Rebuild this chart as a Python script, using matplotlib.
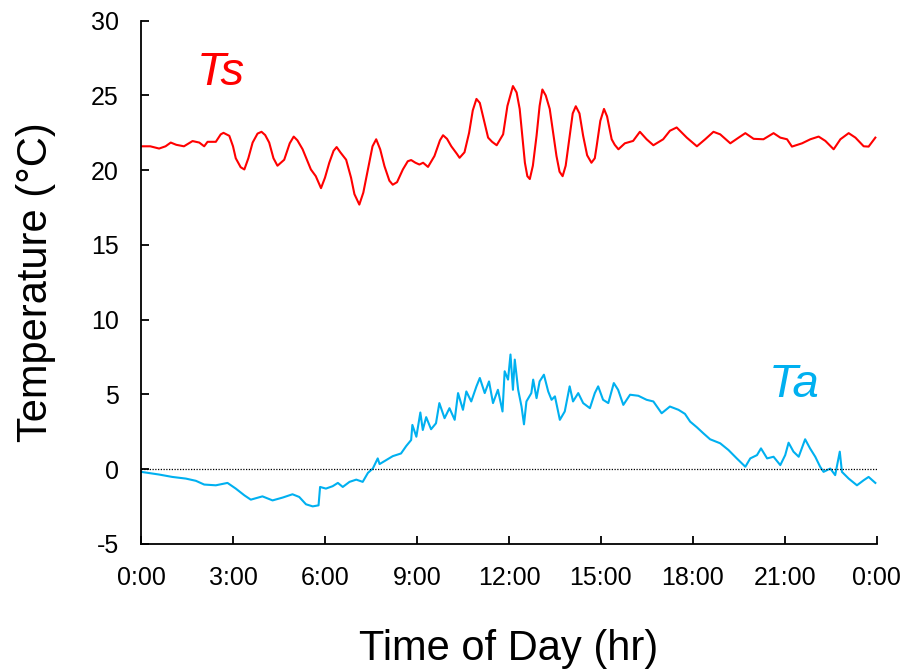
import matplotlib
matplotlib.use("Agg")
import matplotlib.pyplot as plt

# surface temperature (Ts): hour of day, deg C
ts_hours = [0.00, 0.30, 0.59, 0.80, 0.97, 1.15, 1.40, 1.68, 1.90, 2.06, 2.17, 2.44, 2.60, 2.69, 2.88,
            3.00, 3.09, 3.25, 3.37, 3.50, 3.64, 3.80, 3.93, 4.05, 4.18, 4.32, 4.45, 4.67, 4.85, 4.98,
            5.10, 5.27, 5.54, 5.70, 5.87, 6.00, 6.14, 6.28, 6.38, 6.50, 6.69, 6.85, 6.96, 7.12, 7.25,
            7.40, 7.55, 7.67, 7.80, 7.94, 8.10, 8.21, 8.35, 8.54, 8.70, 8.81, 8.95, 9.08, 9.20, 9.36,
            9.57, 9.75, 9.85, 9.98, 10.12, 10.30, 10.39, 10.55, 10.70, 10.82, 10.94, 11.05, 11.20, 11.32,
            11.45, 11.60, 11.81, 11.95, 12.13, 12.25, 12.35, 12.45, 12.52, 12.60, 12.68, 12.78, 12.90,
            13.00, 13.09, 13.20, 13.33, 13.45, 13.55, 13.65, 13.75, 13.85, 13.98, 14.08, 14.18, 14.30,
            14.42, 14.55, 14.69, 14.80, 14.86, 14.98, 15.10, 15.20, 15.35, 15.45, 15.57, 15.78, 16.05,
            16.27, 16.49, 16.71, 17.03, 17.25, 17.47, 17.80, 18.13, 18.40, 18.67, 18.89, 19.22, 19.49,
            19.71, 19.98, 20.30, 20.63, 20.85, 21.07, 21.23, 21.56, 21.83, 22.10, 22.32, 22.59, 22.81,
            23.08, 23.30, 23.57, 23.73, 23.95]
ts_values = [21.6, 21.6, 21.45, 21.6, 21.85, 21.7, 21.6, 21.95, 21.85, 21.6, 21.9, 21.9, 22.4, 22.5, 22.3,
             21.6, 20.8, 20.2, 20.05, 20.8, 21.85, 22.45, 22.57, 22.35, 21.85, 20.8, 20.3, 20.7, 21.8, 22.25,
             22.0, 21.4, 20.05, 19.6, 18.8, 19.5, 20.5, 21.3, 21.55, 21.2, 20.7, 19.5, 18.4, 17.7, 18.5,
             20.05, 21.6, 22.07, 21.4, 20.27, 19.3, 19.03, 19.2, 20.05, 20.6, 20.68, 20.5, 20.38, 20.5, 20.22,
             20.95, 22.0, 22.34, 22.1, 21.6, 21.1, 20.83, 21.2, 22.5, 24.0, 24.77, 24.5, 23.2, 22.18,
             21.9, 21.67, 22.4, 24.3, 25.63, 25.2, 24.1, 22.0, 20.5, 19.6, 19.41, 20.3, 22.3,
             24.3, 25.4, 25.0, 24.1, 22.4, 20.95, 19.9, 19.6, 20.3, 22.3, 23.8, 24.28, 23.8,
             22.3, 21.0, 20.5, 20.8, 21.6, 23.3, 24.1, 23.6, 22.07, 21.7, 21.4, 21.8, 21.96,
             22.57, 22.07, 21.67, 22.07, 22.64, 22.86, 22.18, 21.6, 22.07, 22.57, 22.4, 21.8, 22.18,
             22.48, 22.1, 22.07, 22.48, 22.18, 22.07, 21.58, 21.8, 22.07, 22.25, 21.96, 21.4, 22.07,
             22.48, 22.18, 21.6, 21.58, 22.18]

# air temperature (Ta)
ta_hours = [0.00, 0.59, 1.02, 1.46, 1.79, 2.06, 2.44, 2.82, 3.09, 3.37, 3.58, 3.96, 4.29, 4.62, 4.94,
            5.16, 5.38, 5.60, 5.79, 5.84, 6.03, 6.25, 6.42, 6.58, 6.80, 7.02, 7.23, 7.40, 7.56, 7.72,
            7.78, 7.99, 8.21, 8.48, 8.65, 8.81, 8.85, 8.98, 9.11, 9.19, 9.30, 9.46, 9.62, 9.73, 9.90,
            10.06, 10.23, 10.34, 10.50, 10.61, 10.77, 10.94, 11.05, 11.21, 11.35, 11.48, 11.64, 11.79,
            11.86, 11.97, 12.05, 12.13, 12.19, 12.30, 12.41, 12.49, 12.57, 12.73, 12.79, 12.90, 13.00,
            13.14, 13.28, 13.39, 13.50, 13.66, 13.82, 13.98, 14.09, 14.26, 14.42, 14.64, 14.80, 14.91,
            15.07, 15.24, 15.42, 15.56, 15.73, 15.95, 16.22, 16.49, 16.71, 16.98, 17.25, 17.53, 17.74,
            17.91, 18.13, 18.34, 18.56, 18.89, 19.16, 19.43, 19.71, 19.87, 20.09, 20.22, 20.42, 20.63,
            20.85, 21.01, 21.12, 21.28, 21.45, 21.66, 21.82, 21.99, 22.15, 22.26, 22.48, 22.64, 22.79,
            22.86, 23.08, 23.35, 23.57, 23.73, 23.95]
ta_values = [-0.18, -0.36, -0.52, -0.63, -0.78, -1.03, -1.08, -0.92, -1.30, -1.75, -2.04, -1.82, -2.09, -1.90, -1.68,
             -1.86, -2.35, -2.49, -2.42, -1.19, -1.30, -1.14, -0.92, -1.19, -0.85, -0.70, -0.85, -0.25, 0.04, 0.72,
             0.34, 0.60, 0.87, 1.05, 1.55, 1.95, 2.96, 2.17, 3.79, 2.62, 3.48, 2.67, 3.07, 4.42, 3.41,
             4.08, 3.30, 5.09, 3.97, 5.20, 4.53, 5.54, 6.10, 5.09, 5.87, 4.42, 5.31, 3.86,
             6.55, 5.99, 7.67, 5.31, 7.33, 5.31, 4.19, 3.00, 4.53, 5.09, 5.99, 4.75, 5.87,
             6.32, 5.20, 4.64, 4.87, 3.30, 3.86, 5.54, 4.53, 5.09, 4.42, 4.08, 5.09, 5.54,
             4.64, 4.42, 5.76, 5.31, 4.30, 4.98, 4.91, 4.64, 4.53, 3.74, 4.19, 3.97, 3.70,
             3.18, 2.80, 2.40, 2.00, 1.73, 1.28, 0.72, 0.16, 0.72, 0.94, 1.39, 0.72, 0.83,
             0.27, 0.94, 1.77, 1.17, 0.83, 2.00, 1.39, 0.83, 0.16, -0.18, 0.04, -0.40, 1.17,
             -0.18, -0.63, -1.08, -0.74, -0.52, -0.92]

tick_hours = [0, 3, 6, 9, 12, 15, 18, 21, 24]
tick_labels = ["0:00", "3:00", "6:00", "9:00", "12:00", "15:00", "18:00", "21:00", "0:00"]

plt.rcParams['font.family'] = ['Liberation Sans', 'DejaVu Sans']
plt.rcParams['axes.unicode_minus'] = False

fig = plt.figure(figsize=(9.04, 6.69), dpi=100)
ax = fig.add_axes([0.156, 0.187, 0.814, 0.782])

ax.plot(ts_hours, ts_values, color="#FF0000", lw=1.5)
ax.plot(ta_hours, ta_values, color="#00B0F0", lw=1.5)
ax.plot([0, 24], [0, 0], color="black", lw=0.9, ls=(0, (1, 1.2)))

ax.text(2.6, 26.5, "Ts", color="#FF0000", fontsize=34, style="italic", ha="center", va="center")
ax.text(21.3, 5.6, "Ta", color="#00B0F0", fontsize=34, style="italic", ha="center", va="center")

ax.set_xlim(0, 24)
ax.set_ylim(-5, 30)
ax.set_xticks(tick_hours)
ax.set_xticklabels(tick_labels)
ax.set_yticks(range(-5, 31, 5))
ax.tick_params(direction="in", length=6, width=1.3, labelsize=18, pad=16)
ax.tick_params(axis="y", pad=16)

for side in ["top", "right"]:
	ax.spines[side].set_visible(False)
for side in ["left", "bottom"]:
	ax.spines[side].set_linewidth(1.3)

ax.set_xlabel("Time of Day (hr)", fontsize=30, labelpad=28)
ax.set_ylabel("Temperature (\u00b0C)", fontsize=30, labelpad=25)

plt.savefig("out.png", dpi=100)
